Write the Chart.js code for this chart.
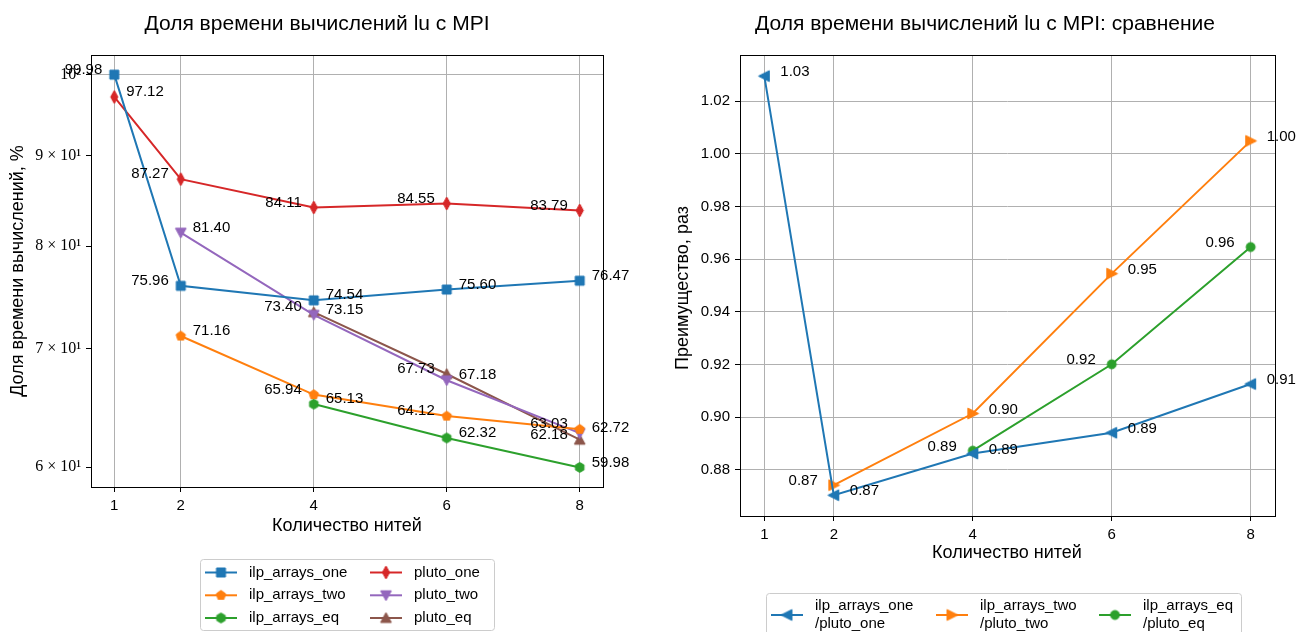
<!DOCTYPE html>
<html>
<head>
<meta charset="utf-8">
<script src="https://cdn.jsdelivr.net/npm/chart.js@4.4.1/dist/chart.umd.min.js"></script>
<style>
  html, body { margin: 0; padding: 0; background: #fff; }
  canvas { position: absolute; top: 0; }
  #left { left: 0; }
  #right { left: 650px; }
</style>
</head>
<body>
<canvas id="left" width="650" height="632"></canvas>
<canvas id="right" width="649" height="632"></canvas>
<script>
// Thread counts (x axis of both charts)
const threads = [1, 2, 4, 6, 8];

// Left chart: share of compute time, %
const ilpArraysOne = [99.98, 75.96, 74.54, 75.60, 76.47];
const ilpArraysTwo = [null, 71.16, 65.94, 64.12, 63.03];
const ilpArraysEq = [null, null, 65.13, 62.32, 59.98];
const plutoOne = [97.12, 87.27, 84.11, 84.55, 83.79];
const plutoTwo = [null, 81.40, 73.15, 67.18, 62.72];
const plutoEq = [null, null, 73.40, 67.73, 62.18];

// Right chart: ratio ilp_arrays / pluto
const ratioOne = [1.0295, 0.8704, 0.8862, 0.8941, 0.9126];
const ratioTwo = [null, 0.8742, 0.9014, 0.9545, 1.0049];
const ratioEq = [null, null, 0.8873, 0.9201, 0.9646];

// Tick values / labels
const logTickValues = [60, 70, 80, 90, 100];
const logTickLabels = ['6 × 10¹', '7 × 10¹', '8 × 10¹', '9 × 10¹', '10²'];
const ratioTicks = [0.88, 0.90, 0.92, 0.94, 0.96, 0.98, 1.00, 1.02];

// Which side of the point each value label sits on (style only)
const sidesIlpOne = ['L', 'L', 'R', 'R', 'R'];
const sidesIlpTwo = [null, 'R', 'L', 'L', 'L'];
const sidesIlpEq = [null, null, 'R', 'R', 'R'];
const sidesPlutoOne = ['R', 'L', 'L', 'L', 'L'];
const sidesPlutoTwo = [null, 'R', 'R', 'R', 'R'];
const sidesPlutoEq = [null, null, 'L', 'L', 'L'];
const sidesRatioOne = ['R', 'R', 'R', 'R', 'R'];
const sidesRatioTwo = [null, 'L', 'R', 'R', 'R'];
const sidesRatioEq = [null, null, 'L', 'L', 'L'];

const C = {
  blue: '#1f77b4', orange: '#ff7f0e', green: '#2ca02c',
  red: '#d62728', purple: '#9467bd', brown: '#8c564b',
};
const SANS = 'Liberation Sans, Arial, sans-serif';
const GRID = '#b0b0b0';

/**
 * Small canvas with a matplotlib-like marker, used as pointStyle.
 */
function makeMarker(shape, color, size) {
  const s = Math.ceil(size * 1.6) + 4;
  const c = document.createElement('canvas');
  c.width = s; c.height = s;
  const g = c.getContext('2d');
  const m = s / 2;
  const r = size / 2;
  g.fillStyle = color;
  g.strokeStyle = color;
  g.lineWidth = 1;
  g.beginPath();
  const poly = (pts) => {
    pts.forEach(([px, py], i) => (i ? g.lineTo(m + px, m + py) : g.moveTo(m + px, m + py)));
    g.closePath();
  };
  const regular = (n, rad, start) => {
    const pts = [];
    for (let i = 0; i < n; i++) {
      const a = start + (i * 2 * Math.PI) / n;
      pts.push([rad * Math.cos(a), rad * Math.sin(a)]);
    }
    poly(pts);
  };
  switch (shape) {
    case 'square': poly([[-r, -r], [r, -r], [r, r], [-r, r]]); break;
    case 'thinDiamond': poly([[0, -r * 1.45], [r * 0.8, 0], [0, r * 1.45], [-r * 0.8, 0]]); break;
    case 'pentagon': regular(5, r * 1.1, -Math.PI / 2); break;
    case 'hexagon': regular(6, r * 1.1, -Math.PI / 2); break;
    case 'triUp': poly([[0, -r * 1.2], [r * 1.2, r], [-r * 1.2, r]]); break;
    case 'triDown': poly([[0, r * 1.2], [r * 1.2, -r], [-r * 1.2, -r]]); break;
    case 'triLeft': poly([[-r * 1.3, 0], [r * 1.1, -r * 1.2], [r * 1.1, r * 1.2]]); break;
    case 'triRight': poly([[r * 1.3, 0], [-r * 1.1, -r * 1.2], [-r * 1.1, r * 1.2]]); break;
    default: g.arc(m, m, r, 0, Math.PI * 2);
  }
  g.fill();
  g.stroke();
  return c;
}

function series(label, values, sides, color, shape) {
  const data = [];
  const labelSides = [];
  threads.forEach((x, i) => {
    if (values[i] === null) return;
    data.push({ x, y: values[i] });
    labelSides.push(sides[i]);
  });
  const marker = makeMarker(shape, color, 9);
  return {
    label, data, labelSides, marker,
    borderColor: color, backgroundColor: color, borderWidth: 2,
    pointStyle: marker, pointRadius: 5, pointHoverRadius: 5, tension: 0,
  };
}

// Value labels next to every point
const pointLabels = {
  id: 'pointLabels',
  afterDatasetsDraw(chart, args, opts) {
    const ctx = chart.ctx;
    ctx.save();
    ctx.font = opts.font;
    ctx.fillStyle = '#000';
    ctx.textBaseline = 'middle';
    chart.data.datasets.forEach((ds, i) => {
      chart.getDatasetMeta(i).data.forEach((pt, j) => {
        const left = ds.labelSides[j] === 'L';
        ctx.textAlign = left ? 'right' : 'left';
        ctx.fillText(ds.data[j].y.toFixed(2), pt.x + (left ? -opts.dx : opts.dx), pt.y + opts.dy);
      });
    });
    ctx.restore();
  },
};

// Four-sided black frame around the plot area
const frame = {
  id: 'frame',
  afterDatasetsDraw(chart) {
    const { left, top, right, bottom } = chart.chartArea;
    const ctx = chart.ctx;
    ctx.save();
    ctx.strokeStyle = '#000';
    ctx.lineWidth = 1;
    ctx.strokeRect(Math.round(left) + 0.5, Math.round(top) + 0.5, Math.round(right - left), Math.round(bottom - top));
    ctx.restore();
  },
};

// Title and axis titles placed like the matplotlib original
const texts = {
  id: 'texts',
  afterDraw(chart, args, opts) {
    const ctx = chart.ctx;
    opts.items.forEach((t) => {
      ctx.save();
      ctx.font = t.font;
      ctx.fillStyle = '#000';
      ctx.textAlign = 'center';
      ctx.textBaseline = 'middle';
      ctx.translate(t.x, t.y);
      if (t.rotate) ctx.rotate(-Math.PI / 2);
      ctx.fillText(t.text, 0, 0);
      ctx.restore();
    });
  },
};

// matplotlib-style legend box: line + marker + text
const boxLegend = {
  id: 'boxLegend',
  afterDraw(chart, args, opts) {
    const ctx = chart.ctx;
    const b = opts.box;
    ctx.save();
    ctx.fillStyle = 'rgba(255,255,255,0.8)';
    ctx.strokeStyle = '#cccccc';
    ctx.lineWidth = 1;
    ctx.beginPath();
    ctx.roundRect(b.x + 0.5, b.y + 0.5, b.w, b.h, 3);
    ctx.fill();
    ctx.stroke();
    ctx.font = opts.font;
    ctx.fillStyle = '#000';
    ctx.textAlign = 'left';
    ctx.textBaseline = 'middle';
    chart.data.datasets.forEach((ds, i) => {
      const col = Math.floor(i / opts.rows.length);
      const row = i % opts.rows.length;
      const x0 = opts.cols[col];
      const y = opts.rows[row];
      ctx.strokeStyle = ds.borderColor;
      ctx.lineWidth = 2;
      ctx.beginPath();
      ctx.moveTo(x0, y);
      ctx.lineTo(x0 + 32, y);
      ctx.stroke();
      const mk = ds.marker;
      ctx.drawImage(mk, x0 + 16 - mk.width / 2, y - mk.height / 2);
      const lines = ds.label.split('\n');
      lines.forEach((ln, k) => {
        ctx.fillText(ln, x0 + 44, y + (k - (lines.length - 1) / 2) * opts.lineGap);
      });
    });
    ctx.restore();
  },
};

const tickFont = { family: SANS, size: 15 };

function xAxis(height) {
  return {
    type: 'linear',
    min: 0.65,
    max: 8.35,
    afterBuildTicks: (s) => { s.ticks = threads.map((v) => ({ value: v })); },
    afterFit: (s) => { s.height = height; },
    ticks: { font: tickFont, color: '#000', padding: 5, autoSkip: false, maxRotation: 0 },
    grid: { color: GRID, lineWidth: 1, tickColor: '#000', tickLength: 5 },
    border: { display: false },
  };
}

new Chart(document.getElementById('left'), {
  type: 'line',
  data: {
    datasets: [
      series('ilp_arrays_one', ilpArraysOne, sidesIlpOne, C.blue, 'square'),
      series('ilp_arrays_two', ilpArraysTwo, sidesIlpTwo, C.orange, 'pentagon'),
      series('ilp_arrays_eq', ilpArraysEq, sidesIlpEq, C.green, 'hexagon'),
      series('pluto_one', plutoOne, sidesPlutoOne, C.red, 'thinDiamond'),
      series('pluto_two', plutoTwo, sidesPlutoTwo, C.purple, 'triDown'),
      series('pluto_eq', plutoEq, sidesPlutoEq, C.brown, 'triUp'),
    ],
  },
  options: {
    responsive: false,
    animation: false,
    layout: { padding: { top: 55, right: 47, bottom: 85, left: 0 } },
    scales: {
      x: xAxis(60),
      y: {
        type: 'logarithmic',
        bounds: 'data',
        min: 58.47,
        max: 102.57,
        afterBuildTicks: (s) => { s.ticks = logTickValues.map((v) => ({ value: v })); },
        afterFit: (s) => { s.width = 91; },
        ticks: {
          callback: (v) => logTickLabels[logTickValues.indexOf(v)],
          font: { family: 'Liberation Serif, DejaVu Serif, serif', size: 16 },
          color: '#000', padding: 5, autoSkip: false,
        },
        grid: {
          color: (c) => (c.tick && c.tick.value === 100 ? GRID : 'rgba(0,0,0,0)'),
          lineWidth: 1, tickColor: '#000', tickLength: 5,
        },
        border: { display: false },
      },
    },
    plugins: {
      legend: { display: false },
      tooltip: { enabled: false },
      pointLabels: { font: `15px ${SANS}`, dx: 12, dy: -5 },
      texts: {
        items: [
          { text: 'Доля времени вычислений lu с MPI', x: 317, y: 24, font: `21px ${SANS}` },
          { text: 'Количество нитей', x: 347, y: 526, font: `18px ${SANS}` },
          { text: 'Доля времени вычислений, %', x: 18, y: 271, font: `18px ${SANS}`, rotate: true },
        ],
      },
      boxLegend: {
        font: `15px ${SANS}`,
        box: { x: 200, y: 559, w: 294, h: 71 },
        cols: [205, 370],
        rows: [572.5, 595.3, 618],
        lineGap: 18,
      },
    },
  },
  plugins: [frame, pointLabels, texts, boxLegend],
});

new Chart(document.getElementById('right'), {
  type: 'line',
  data: {
    datasets: [
      series('ilp_arrays_one\n/pluto_one', ratioOne, sidesRatioOne, C.blue, 'triLeft'),
      series('ilp_arrays_two\n/pluto_two', ratioTwo, sidesRatioTwo, C.orange, 'triRight'),
      series('ilp_arrays_eq\n/pluto_eq', ratioEq, sidesRatioEq, C.green, 'circle'),
    ],
  },
  options: {
    responsive: false,
    animation: false,
    layout: { padding: { top: 55, right: 24, bottom: 66, left: 0 } },
    scales: {
      x: xAxis(50),
      y: {
        type: 'linear',
        min: 0.8625,
        max: 1.0375,
        afterBuildTicks: (s) => { s.ticks = ratioTicks.map((v) => ({ value: v })); },
        afterFit: (s) => { s.width = 90; },
        ticks: { callback: (v) => v.toFixed(2), font: tickFont, color: '#000', padding: 5, autoSkip: false },
        grid: { color: GRID, lineWidth: 1, tickColor: '#000', tickLength: 5 },
        border: { display: false },
      },
    },
    plugins: {
      legend: { display: false },
      tooltip: { enabled: false },
      pointLabels: { font: `15px ${SANS}`, dx: 16, dy: -4 },
      texts: {
        items: [
          { text: 'Доля времени вычислений lu с MPI: сравнение', x: 335, y: 24, font: `21px ${SANS}` },
          { text: 'Количество нитей', x: 357, y: 553, font: `18px ${SANS}` },
          { text: 'Преимущество, раз', x: 33, y: 288, font: `18px ${SANS}`, rotate: true },
        ],
      },
      boxLegend: {
        font: `15px ${SANS}`,
        box: { x: 116, y: 593, w: 475, h: 60 },
        cols: [121, 286, 449],
        rows: [615],
        lineGap: 18,
      },
    },
  },
  plugins: [frame, pointLabels, texts, boxLegend],
});
</script>
</body>
</html>
